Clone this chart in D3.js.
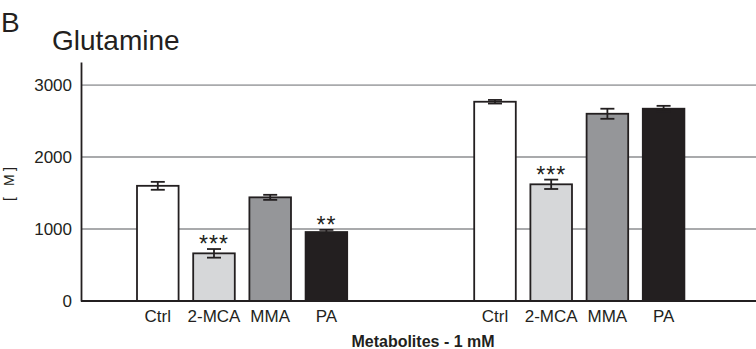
<!DOCTYPE html>
<html>
<head>
<meta charset="utf-8">
<script src="https://cdn.jsdelivr.net/npm/d3@7/dist/d3.min.js"></script>
<style>
  html, body { margin: 0; padding: 0; background: #fff; }
  svg { display: block; }
  text { font-family: "Liberation Sans", Arial, Helvetica, sans-serif; fill: #231f20; }
</style>
</head>
<body>
<svg id="chart" width="756" height="349"></svg>
<script>
// ---- data ----
const categories = ["Ctrl", "2-MCA", "MMA", "PA"];
const group1Values = [1600, 662, 1440, 958];
const group1Errors = [55, 60, 35, 30];
const group1Signif = ["", "***", "", "**"];
const group2Values = [2768, 1621, 2601, 2671];
const group2Errors = [25, 65, 70, 40];
const group2Signif = ["", "***", "", ""];
const yTicks = [0, 1000, 2000, 3000];
const barColors = ["#ffffff", "#d6d7d9", "#959699", "#231f20"];
const groupSlotStart = [0, 6];

const rows = [];
[[group1Values, group1Errors, group1Signif], [group2Values, group2Errors, group2Signif]].forEach((g, gi) => {
  categories.forEach((c, ci) => {
    rows.push({ cat: c, ci: ci, slot: groupSlotStart[gi] + ci, value: g[0][ci], err: g[1][ci], sig: g[2][ci] });
  });
});

const svg = d3.select("#chart");
const axisX = 81;

const y = d3.scaleLinear().domain([0, 3320]).range([301, 62]);
const step = 56.2, inner = 0.26;
const x = d3.scaleBand()
  .domain(d3.range(10))
  .range([137, 137 + step * (10 - inner)])
  .paddingInner(inner).paddingOuter(0);

// gridlines
svg.append("g").selectAll("line")
  .data(yTicks.filter(t => t > 0))
  .join("line")
  .attr("x1", axisX).attr("x2", 756)
  .attr("y1", d => y(d)).attr("y2", d => y(d))
  .attr("stroke", "#a9aaac").attr("stroke-width", 1.8);

// y axis
const yAxis = d3.axisLeft(y).tickValues(yTicks).tickSize(0).tickPadding(9).tickFormat(d3.format("d"));
const gy = svg.append("g").attr("transform", `translate(${axisX},0)`).call(yAxis);
gy.select(".domain").attr("stroke", "#231f20").attr("stroke-width", 1.8);
gy.selectAll("text").style("font-size", "17px").attr("fill", "#231f20")
  .style("font-family", '"Liberation Sans", Arial, sans-serif');

// bars
svg.append("g").selectAll("rect")
  .data(rows)
  .join("rect")
  .attr("x", d => x(d.slot))
  .attr("width", x.bandwidth())
  .attr("y", d => y(d.value))
  .attr("height", d => y(0) - y(d.value))
  .attr("fill", d => barColors[d.ci])
  .attr("stroke", "#231f20").attr("stroke-width", 1.8);

// baseline
svg.append("line")
  .attr("x1", axisX).attr("x2", 756).attr("y1", y(0)).attr("y2", y(0))
  .attr("stroke", "#231f20").attr("stroke-width", 1.8);

// error bars
const eg = svg.append("g").attr("stroke", "#231f20").attr("stroke-width", 1.8);
rows.forEach(d => {
  const cx = x(d.slot) + x.bandwidth() / 2;
  const top = y(d.value + d.err), bot = y(d.value - d.err);
  eg.append("line").attr("x1", cx).attr("x2", cx).attr("y1", top).attr("y2", bot);
  eg.append("line").attr("x1", cx - 7).attr("x2", cx + 7).attr("y1", top).attr("y2", top);
  eg.append("line").attr("x1", cx - 7).attr("x2", cx + 7).attr("y1", bot).attr("y2", bot);
});

// significance stars
svg.append("g").selectAll("text")
  .data(rows.filter(d => d.sig))
  .join("text")
  .attr("x", d => x(d.slot) + x.bandwidth() / 2)
  .attr("y", d => y(d.value + d.err) + 3)
  .attr("text-anchor", "middle")
  .style("font-size", "23px")
  .style("letter-spacing", "1px")
  .text(d => d.sig);

// x labels
svg.append("g").selectAll("text")
  .data(rows)
  .join("text")
  .attr("x", d => x(d.slot) + x.bandwidth() / 2)
  .attr("y", 322)
  .attr("text-anchor", "middle")
  .style("font-size", "17px")
  .text(d => d.cat);

// x axis title
svg.append("text")
  .attr("x", 423).attr("y", 347)
  .attr("text-anchor", "middle")
  .style("font-size", "16px").style("font-weight", "bold")
  .text("Metabolites - 1 mM");

// y axis title
svg.append("text")
  .attr("transform", "translate(14,184) rotate(-90)")
  .attr("text-anchor", "middle")
  .style("font-size", "14px")
  .attr("textLength", 34).attr("lengthAdjust", "spacing")
  .text("[ M]");

// title & panel letter
svg.append("text").attr("x", 52).attr("y", 50).style("font-size", "28px").text("Glutamine");
svg.append("text").attr("x", 1).attr("y", 32).style("font-size", "28px").text("B");
</script>
</body>
</html>
